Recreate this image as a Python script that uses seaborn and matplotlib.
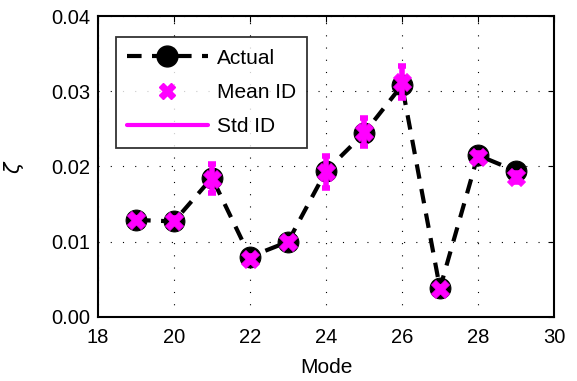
import numpy as np
import pandas as pd
import seaborn as sns
import matplotlib.pyplot as plt
from matplotlib.lines import Line2D

# values
modes = [19, 20, 21, 22, 23, 24, 25, 26, 27, 28, 29]
actual = [0.0129, 0.0127, 0.0185, 0.0080, 0.0100, 0.0194, 0.0244, 0.0308, 0.0038, 0.0215, 0.0194]
mean_id = [0.0129, 0.0128, 0.0184, 0.0077, 0.0100, 0.0193, 0.0246, 0.0312, 0.0037, 0.0213, 0.0186]
std_id = [0.0003, 0.0003, 0.0019, 0.0004, 0.0003, 0.0021, 0.0019, 0.0021, 0.0003, 0.0005, 0.0006]

df = pd.DataFrame({'Mode': modes, 'Actual': actual, 'Mean': mean_id, 'Std': std_id})

sns.set_style('white')
plt.rcParams['font.family'] = ['Liberation Sans', 'DejaVu Sans']
plt.rcParams['text.color'] = 'black'
plt.rcParams['axes.labelcolor'] = 'black'

fig = plt.figure(figsize=(5.77, 3.81), dpi=100)
ax = fig.add_axes([0.170, 0.168, 0.790, 0.790])

mag = '#ff00ff'
dash = (0, (3.5, 2.5))
sns.lineplot(data=df, x='Mode', y='Actual', ax=ax, color='black', linestyle=dash,
             linewidth=3, marker='o', markersize=15, markeredgecolor='black', zorder=2)
ax.errorbar(df['Mode'], df['Mean'], yerr=df['Std'], fmt='none', ecolor=mag,
            elinewidth=4, capsize=3, capthick=4, zorder=3)
sns.scatterplot(data=df, x='Mode', y='Mean', ax=ax, color=mag, marker='X', s=170,
                edgecolor=mag, linewidth=0.5, zorder=4)

ax.set_xlim(18, 30)
ax.set_ylim(0, 0.04)
ax.set_xticks(range(18, 31, 2))
ax.set_yticks(np.arange(0, 0.041, 0.01))
ax.set_yticklabels(['0.00', '0.01', '0.02', '0.03', '0.04'])
ax.grid(True, color='black', linestyle=(0, (1, 10)), linewidth=0.8)
ax.tick_params(direction='in', top=True, right=True, length=4, labelsize=14.5, colors='black')
ax.tick_params(axis='y', pad=5.5)
ax.tick_params(axis='x', pad=8)
for s in ax.spines.values():
    s.set_color('black')
    s.set_linewidth(1.5)
ax.set_xlabel('Mode', fontsize=15, labelpad=8)
ax.set_ylabel(r'$\zeta$', fontsize=15)
ax.yaxis.set_label_coords(-0.158, 0.5)

handles = [
    Line2D([], [], color='black', linestyle=dash, linewidth=3, marker='o', markersize=15),
    Line2D([], [], color=mag, linestyle='none', marker='X', markersize=12),
    Line2D([], [], color=mag, linewidth=3),
]
leg = ax.legend(handles, ['Actual', 'Mean ID', 'Std ID'], loc='upper left',
                bbox_to_anchor=(0.039, 0.930), borderaxespad=0, fontsize=15, frameon=True,
                fancybox=False, edgecolor='black', handlelength=3.85, handletextpad=0.45,
                borderpad=0.55, labelspacing=0.74)
leg.get_frame().set_linewidth(1.3)

fig.savefig('out.png', dpi=100)
